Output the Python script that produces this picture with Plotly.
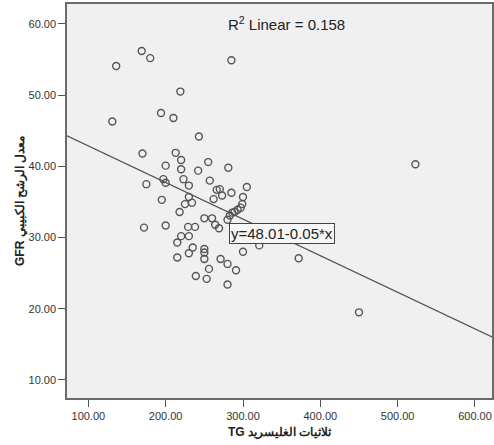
import plotly.graph_objects as go

# Data
tg = [136, 169, 180, 285, 219, 131, 194, 210, 243, 170,
      213, 220, 200, 220, 242, 255, 281, 257, 197, 200,
      223, 230, 175, 266, 270, 273, 285, 305, 195, 230,
      225, 234, 262, 218, 250, 260, 280, 300, 299, 297,
      293, 289, 286, 283, 172, 200, 229, 238, 264, 269,
      220, 230, 215, 235, 250, 250, 250, 230, 215, 271,
      280, 291, 256, 239, 253, 280, 300, 321, 372, 450,
      523]
gfr = [54.1, 56.2, 55.2, 54.9, 50.5, 46.3, 47.5, 46.8, 44.2, 41.8,
       41.9, 40.9, 40.1, 39.6, 39.4, 40.6, 39.8, 38.0, 38.2, 37.7,
       38.2, 37.3, 37.5, 36.7, 36.8, 35.9, 36.3, 37.1, 35.3, 35.7,
       34.7, 34.9, 35.4, 33.6, 32.7, 32.7, 32.5, 35.7, 34.7, 34.2,
       33.9, 33.6, 33.5, 33.1, 31.4, 31.7, 31.5, 31.5, 31.8, 31.3,
       30.2, 30.2, 29.3, 28.6, 28.4, 27.9, 27.0, 27.8, 27.2, 27.0,
       26.3, 25.4, 25.6, 24.6, 24.2, 23.4, 28.0, 28.9, 27.1, 19.5,
       40.3]

intercept = 48.01
slope = -0.0514
x_range = [72.4, 622]
y_range = [7.47, 62.8]
x_ticks = [100, 200, 300, 400, 500, 600]
y_ticks = [10, 20, 30, 40, 50, 60]

fit_x = x_range
fit_y = [intercept + slope * v for v in fit_x]

FONT = "Liberation Sans, Arial, sans-serif"

fig = go.Figure()
fig.add_trace(go.Scatter(
    x=fit_x, y=fit_y, mode="lines",
    line=dict(color="#505050", width=1.1),
    hoverinfo="skip", showlegend=False,
))
fig.add_trace(go.Scatter(
    x=tg, y=gfr, mode="markers",
    marker=dict(symbol="circle-open", size=7, color="#555555",
                line=dict(width=1.4, color="#555555")),
    showlegend=False,
))

axis_common = dict(
    showgrid=False, zeroline=False, automargin=False,
    showline=True, linecolor="#6a6a6a", linewidth=1.5, mirror=True,
    ticks="outside", ticklen=7, tickcolor="#555555", tickwidth=1,
    tickfont=dict(family=FONT, size=11, color="#333333"),
)

fig.update_layout(
    width=494, height=445,
    margin=dict(l=67, r=2, t=4, b=47),
    paper_bgcolor="white",
    plot_bgcolor="#f0f0f0",
    xaxis=dict(range=x_range, tickvals=x_ticks,
               ticktext=[f"{v:.2f}" for v in x_ticks], **axis_common),
    yaxis=dict(range=y_range, tickvals=y_ticks,
               ticktext=[f"{v:.2f}" for v in y_ticks], **axis_common),
    annotations=[
        dict(text="R<sup>2</sup> Linear = 0.158", xref="paper", yref="paper",
             x=0.517, y=0.95, xanchor="center", yanchor="middle",
             showarrow=False, font=dict(family=FONT, size=15, color="#222222")),
        dict(text="y=48.01-0.05*x", xref="paper", yref="paper",
             x=0.506, y=0.4175, xanchor="center", yanchor="middle",
             showarrow=False, font=dict(family=FONT, size=15, color="#222222"),
             bgcolor="#f7f7f7", bordercolor="#444444", borderwidth=1, borderpad=1),
        dict(text="<b>TG ثلاثيات الغليسريد</b>", xref="paper", yref="paper",
             x=0.5, y=0, xanchor="center", yanchor="middle", yshift=-34,
             showarrow=False, font=dict(family=FONT, size=12, color="#222222")),
        dict(text="<b>GFR معدل الرشح الكبيبي</b>", xref="paper", yref="paper",
             x=0, y=0.5, xanchor="center", yanchor="middle", xshift=-47,
             textangle=-90,
             showarrow=False, font=dict(family=FONT, size=12, color="#222222")),
    ],
)

fig.write_html(
    "out.html",
    config={"displayModeBar": False},
    post_script="document.body.style.margin='0px';document.body.style.overflow='hidden';",
)
